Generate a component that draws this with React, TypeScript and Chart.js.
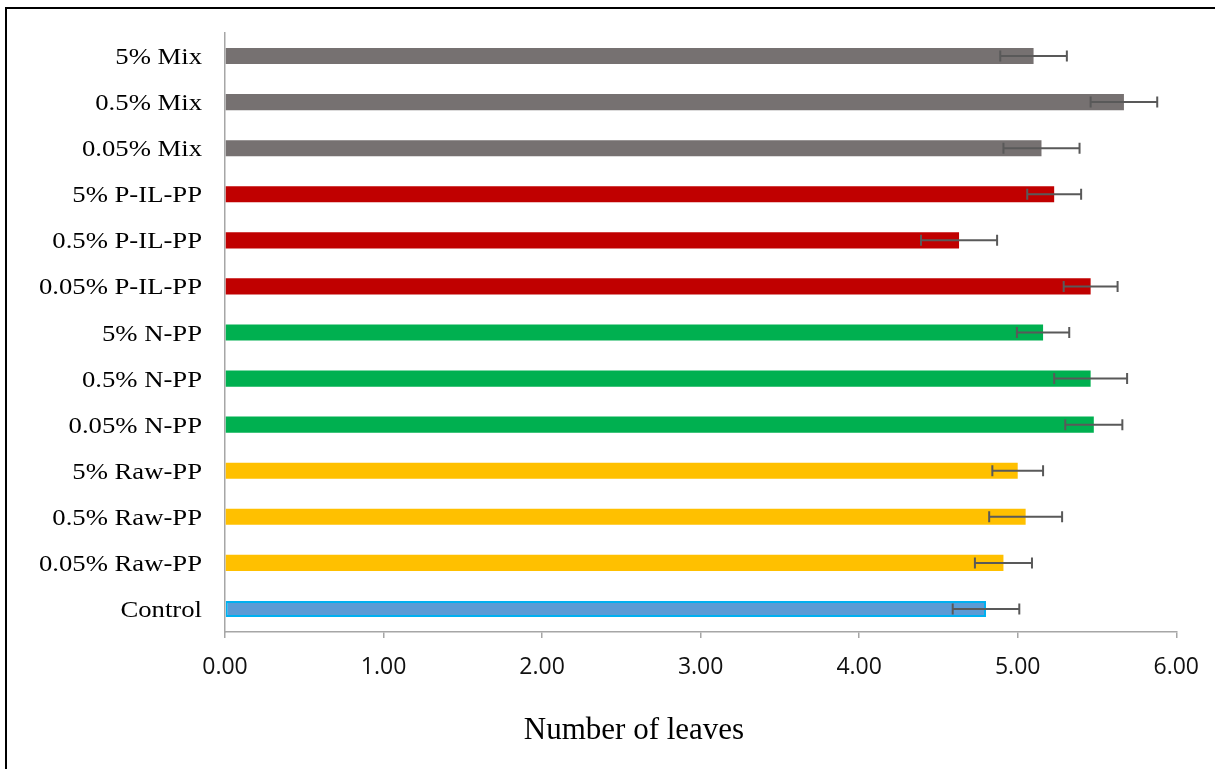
import React, { useEffect, useRef } from "react";
import { Chart, registerables } from "chart.js";

Chart.register(...registerables);

// Treatments, listed from the bottom of the axis upward
const categories: string[] = [
  "Control",
  "0.05% Raw-PP",
  "0.5% Raw-PP",
  "5% Raw-PP",
  "0.05% N-PP",
  "0.5% N-PP",
  "5% N-PP",
  "0.05% P-IL-PP",
  "0.5% P-IL-PP",
  "5% P-IL-PP",
  "0.05% Mix",
  "0.5% Mix",
  "5% Mix",
];

// Mean number of leaves per treatment
const leafMeans: number[] = [
  4.80, 4.91, 5.05, 5.00, 5.48, 5.46, 5.16, 5.46, 4.63, 5.23, 5.15, 5.67, 5.10,
];

// Standard error for each mean
const leafErrors: number[] = [
  0.21, 0.18, 0.23, 0.16, 0.18, 0.23, 0.165, 0.17, 0.24, 0.17, 0.24, 0.21, 0.21,
];

// Fill colour per treatment group
const groupColors: string[] = [
  "#5B9BD5",
  "#FFC000", "#FFC000", "#FFC000",
  "#00B050", "#00B050", "#00B050",
  "#C00000", "#C00000", "#C00000",
  "#767171", "#767171", "#767171",
];
const borderColors: string[] = groupColors.map((c, i) => (i === 0 ? "#00B0F0" : c));
const borderWidths: number[] = groupColors.map((_, i) => (i === 0 ? 2 : 0));

const xTickValues: number[] = [0, 1, 2, 3, 4, 5, 6];
const axisTitle = "Number of leaves";

const errorBarPlugin = {
  id: "errorBars",
  afterDatasetsDraw(chart: any) {
    const meta = chart.getDatasetMeta(0);
    const xScale = chart.scales.x;
    const ctx = chart.ctx as CanvasRenderingContext2D;
    ctx.save();
    ctx.strokeStyle = "#595959";
    ctx.lineWidth = 2;
    meta.data.forEach((bar: any, i: number) => {
      const v = leafMeans[i];
      const e = leafErrors[i];
      const x1 = xScale.getPixelForValue(v - e);
      const x2 = xScale.getPixelForValue(v + e);
      const y = bar.y;
      const cap = 5.5;
      ctx.beginPath();
      ctx.moveTo(x1, y);
      ctx.lineTo(x2, y);
      ctx.moveTo(x1, y - cap);
      ctx.lineTo(x1, y + cap);
      ctx.moveTo(x2, y - cap);
      ctx.lineTo(x2, y + cap);
      ctx.stroke();
    });
    ctx.restore();
  },
};

// Category labels in a slightly widened serif face
const categoryLabelPlugin = {
  id: "categoryLabels",
  afterDraw(chart: any) {
    const yScale = chart.scales.y;
    const ctx = chart.ctx as CanvasRenderingContext2D;
    ctx.save();
    ctx.font = '23px "Liberation Serif", "Times New Roman", serif';
    ctx.fillStyle = "#000";
    ctx.textAlign = "right";
    ctx.textBaseline = "alphabetic";
    categories.forEach((label, i) => {
      const y = yScale.getPixelForValue(i);
      ctx.save();
      ctx.translate(yScale.right - 23, y + 8);
      ctx.scale(1.16, 1);
      ctx.fillText(label, 0, 0);
      ctx.restore();
    });
    ctx.restore();
  },
};

const axisTitlePlugin = {
  id: "axisTitleText",
  afterDraw(chart: any) {
    const ctx = chart.ctx as CanvasRenderingContext2D;
    ctx.save();
    ctx.font = '31px "Liberation Serif", "Times New Roman", serif';
    ctx.fillStyle = "#000";
    ctx.textAlign = "center";
    ctx.textBaseline = "alphabetic";
    ctx.fillText(axisTitle, 634, 739);
    ctx.restore();
  },
};

export default function App() {
  const canvasRef = useRef<HTMLCanvasElement | null>(null);

  useEffect(() => {
    if (!canvasRef.current) return;
    const axisGray = "#A6A6A6";
    const chart = new Chart(canvasRef.current, {
      type: "bar",
      data: {
        labels: categories,
        datasets: [
          {
            data: leafMeans,
            backgroundColor: groupColors,
            borderColor: borderColors,
            borderWidth: borderWidths,
            borderSkipped: false,
            barPercentage: 0.35,
            categoryPercentage: 1,
          },
        ],
      },
      options: {
        indexAxis: "y",
        responsive: false,
        animation: false,
        devicePixelRatio: 1,
        layout: { padding: { top: 33, right: 38, left: 0, bottom: 0 } },
        plugins: {
          legend: { display: false },
          tooltip: { enabled: false },
          title: { display: false },
        },
        scales: {
          x: {
            type: "linear",
            min: 0,
            max: 6,
            afterBuildTicks(scale: any) {
              scale.ticks = xTickValues.map((v) => ({ value: v }));
            },
            afterFit(scale: any) {
              scale.height = 137;
            },
            grid: {
              display: true,
              drawOnChartArea: false,
              drawTicks: true,
              tickLength: 6,
              color: axisGray,
              lineWidth: 1.5,
            },
            border: { display: true, color: axisGray, width: 1.5 },
            ticks: {
              padding: 16,
              color: "#111",
              font: { family: '"Open Sans", sans-serif', size: 23 },
              callback: (v: any) => Number(v).toFixed(2),
            },
          },
          y: {
            type: "category",
            reverse: true,
            afterFit(scale: any) {
              scale.width = 225;
            },
            grid: { display: false, drawTicks: false },
            border: { display: true, color: axisGray, width: 1.5 },
            ticks: { display: false },
          },
        },
      },
      plugins: [errorBarPlugin, categoryLabelPlugin, axisTitlePlugin],
    });
    return () => chart.destroy();
  }, []);

  return (
    <div
      style={{
        position: "absolute",
        left: 0,
        top: 0,
        width: 1215,
        height: 769,
        overflow: "hidden",
        background: "#fff",
      }}
    >
      <div
        style={{
          position: "absolute",
          left: 5,
          top: 7,
          width: 1300,
          height: 900,
          borderLeft: "2px solid #000",
          borderTop: "2px solid #000",
        }}
      />
      <canvas
        ref={canvasRef}
        width={1215}
        height={769}
        style={{ position: "absolute", left: 0, top: 0, width: 1215, height: 769 }}
      />
    </div>
  );
}
